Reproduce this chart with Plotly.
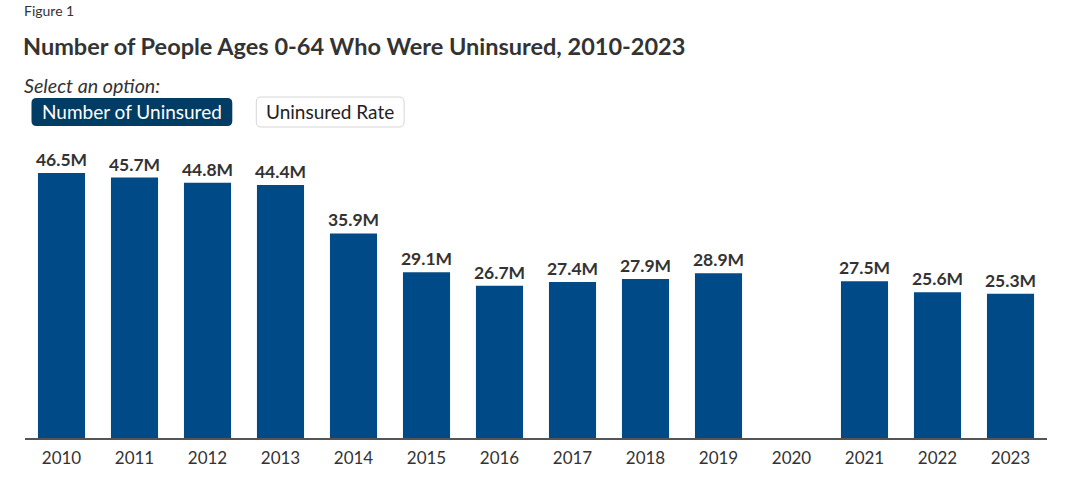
import plotly.graph_objects as go

years = ["2010", "2011", "2012", "2013", "2014", "2015", "2016", "2017", "2018", "2019", "2020", "2021", "2022", "2023"]
uninsured_millions = [46.5, 45.7, 44.8, 44.4, 35.9, 29.1, 26.7, 27.4, 27.9, 28.9, None, 27.5, 25.6, 25.3]
labels = [f"{v}M" if v is not None else "" for v in uninsured_millions]

FONT = "Source Sans Pro, Lato, Noto Sans, sans-serif"
W, H = 1089, 502
ML, MR, MT, MB = 24.5, W - 1047.5, 140, H - 438
PW, PH = W - ML - MR, H - MT - MB

def px(x):
    return (x - ML) / PW

def py(y):
    return (H - MB - y) / PH

def rrect(x0, y0, x1, y1, r):
    # pixel coords -> paper path with rounded corners
    rx = r / PW
    ry = r / PH
    X0, X1 = px(x0), px(x1)
    Y0, Y1 = py(y1), py(y0)  # bottom, top
    return (f"M {X0+rx},{Y0} L {X1-rx},{Y0} Q {X1},{Y0} {X1},{Y0+ry} "
            f"L {X1},{Y1-ry} Q {X1},{Y1} {X1-rx},{Y1} L {X0+rx},{Y1} "
            f"Q {X0},{Y1} {X0},{Y1-ry} L {X0},{Y0+ry} Q {X0},{Y0} {X0+rx},{Y0} Z")

fig = go.Figure(go.Bar(
    x=years, y=uninsured_millions,
    marker=dict(color="#004A87", line=dict(width=0)),
    text=labels, textposition="outside", cliponaxis=False, constraintext="none",
    textfont=dict(family=FONT, size=17.5, color="#333333", weight="bold"),
    hovertemplate="%{x}: %{y}M<extra></extra>",
))

shapes = [
    dict(type="path", xref="paper", yref="paper", path=rrect(31, 98, 232, 126, 5),
         fillcolor="#003C64", line=dict(width=0)),
    dict(type="path", xref="paper", yref="paper", path=rrect(256, 97, 404, 127, 5),
         fillcolor="#FFFFFF", line=dict(color="#D6D6D6", width=1)),
]

annotations = [
    dict(text="Figure 1", x=px(21), y=py(11), xref="paper", yref="paper", xanchor="left", yanchor="middle",
         showarrow=False, font=dict(family=FONT, size=14, color="#333333")),
    dict(text="<b>Number of People Ages 0-64 Who Were Uninsured, 2010-2023</b>", x=px(20), y=py(46),
         xref="paper", yref="paper", xanchor="left", yanchor="middle", showarrow=False,
         font=dict(family=FONT, size=23.5, color="#333333")),
    dict(text="<i>Select an option:</i>", x=px(21), y=py(85), xref="paper", yref="paper", xanchor="left",
         yanchor="middle", showarrow=False, font=dict(family=FONT, size=19.7, color="#333333")),
    dict(text="Number of Uninsured", x=px(131.5), y=py(112), xref="paper", yref="paper", xanchor="center",
         yanchor="middle", showarrow=False, font=dict(family=FONT, size=19, color="#FFFFFF")),
    dict(text="Uninsured Rate", x=px(330), y=py(112), xref="paper", yref="paper", xanchor="center",
         yanchor="middle", showarrow=False, font=dict(family=FONT, size=19, color="#222222")),
]

fig.update_layout(
    width=W, height=H,
    margin=dict(l=ML, r=MR, t=MT, b=MB, pad=0),
    paper_bgcolor="white", plot_bgcolor="white",
    bargap=0.355,
    showlegend=False,
    shapes=shapes, annotations=annotations,
    font=dict(family=FONT, color="#333333"),
    xaxis=dict(type="category", showline=True, linecolor="#555555", linewidth=1.5, ticks="",
               ticklabelstandoff=4,
               tickfont=dict(family=FONT, size=17, color="#333333"), showgrid=False, fixedrange=True),
    yaxis=dict(range=[0, 52.3], visible=False, showgrid=False, fixedrange=True),
)

fig.write_html("out.html", config={"displayModeBar": False},
               post_script="document.body.style.margin='0';")
